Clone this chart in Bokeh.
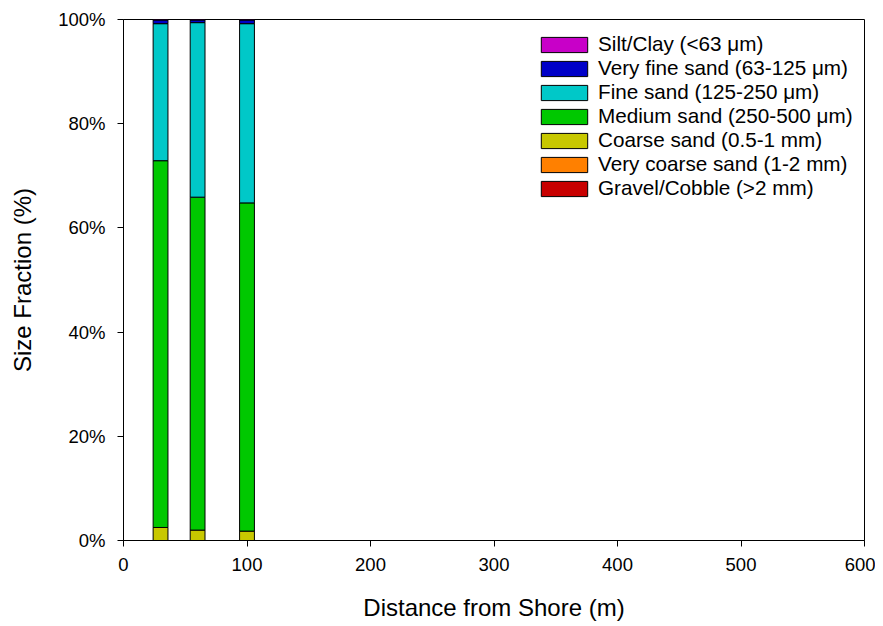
from bokeh.plotting import figure
from bokeh.models import ColumnDataSource, Legend, LegendItem, PrintfTickFormatter, FixedTicker, Range1d
from bokeh.embed import file_html
from bokeh.resources import INLINE

distance = [30, 60, 100]
gravel = [0.0, 0.0, 0.0]
very_coarse = [0.0, 0.0, 0.0]
coarse = [2.5, 2.0, 1.8]
medium = [70.4, 63.9, 63.0]
fine = [26.3, 33.5, 34.4]
very_fine = [0.7, 0.5, 0.7]
silt_clay = [0.1, 0.1, 0.1]

names = ["gravel", "very_coarse", "coarse", "medium", "fine", "very_fine", "silt_clay"]
labels = ["Gravel/Cobble (>2 mm)", "Very coarse sand (1-2 mm)", "Coarse sand (0.5-1 mm)",
          "Medium sand (250-500 \u03bcm)", "Fine sand (125-250 \u03bcm)",
          "Very fine sand (63-125 \u03bcm)", "Silt/Clay (<63 \u03bcm)"]
colors = ["#C80000", "#FF8000", "#C8C800", "#00C800", "#00C8C8", "#0000C8", "#C800C8"]

source = ColumnDataSource(dict(x=distance, gravel=gravel, very_coarse=very_coarse, coarse=coarse,
                               medium=medium, fine=fine, very_fine=very_fine, silt_clay=silt_clay))

p = figure(width=875, height=626, output_backend="svg", toolbar_location=None,
           x_range=Range1d(0, 600), y_range=Range1d(0, 100),
           min_border_left=123, min_border_right=11, min_border_top=19, min_border_bottom=86)
p.xgrid.visible = False
p.ygrid.visible = False
p.outline_line_color = "black"
p.outline_line_width = 1

renderers = p.vbar_stack(names, x="x", width=12, source=source, color=colors,
                         line_color="black", line_width=1)

items = [LegendItem(label=l, renderers=[r]) for l, r in zip(labels, renderers)][::-1]
legend = Legend(items=items, location=(412, 340), padding=0, margin=0, spacing=0,
                glyph_width=58, glyph_height=19, label_height=24, label_standoff=5,
                border_line_color=None, background_fill_alpha=0,
                label_text_font="Liberation Sans", label_text_font_size="20.7px",
                label_text_color="black")
p.add_layout(legend, "center")

for ax in (p.xaxis[0], p.yaxis[0]):
    ax.axis_line_color = "black"
    ax.major_tick_line_color = "black"
    ax.minor_tick_line_color = None
    ax.major_tick_in = 0
    ax.major_tick_out = 6
    ax.major_label_text_font = "Liberation Sans"
    ax.major_label_text_font_size = "18.5px"
    ax.major_label_text_color = "black"
    ax.axis_label_text_font = "Liberation Sans"
    ax.axis_label_text_font_size = "24px"
    ax.axis_label_text_font_style = "normal"
    ax.axis_label_text_color = "black"

p.xaxis.ticker = FixedTicker(ticks=[0, 100, 200, 300, 400, 500, 600])
p.yaxis.ticker = FixedTicker(ticks=[0, 20, 40, 60, 80, 100])
p.yaxis.formatter = PrintfTickFormatter(format="%d%%")
p.xaxis.axis_label = "Distance from Shore (m)"
p.yaxis.axis_label = "Size Fraction (%)"
p.xaxis.major_label_standoff = 11
p.yaxis.major_label_standoff = 12
p.xaxis.axis_label_standoff = 20
p.yaxis.axis_label_standoff = 19

open("out.html", "w").write(file_html(p, INLINE))
